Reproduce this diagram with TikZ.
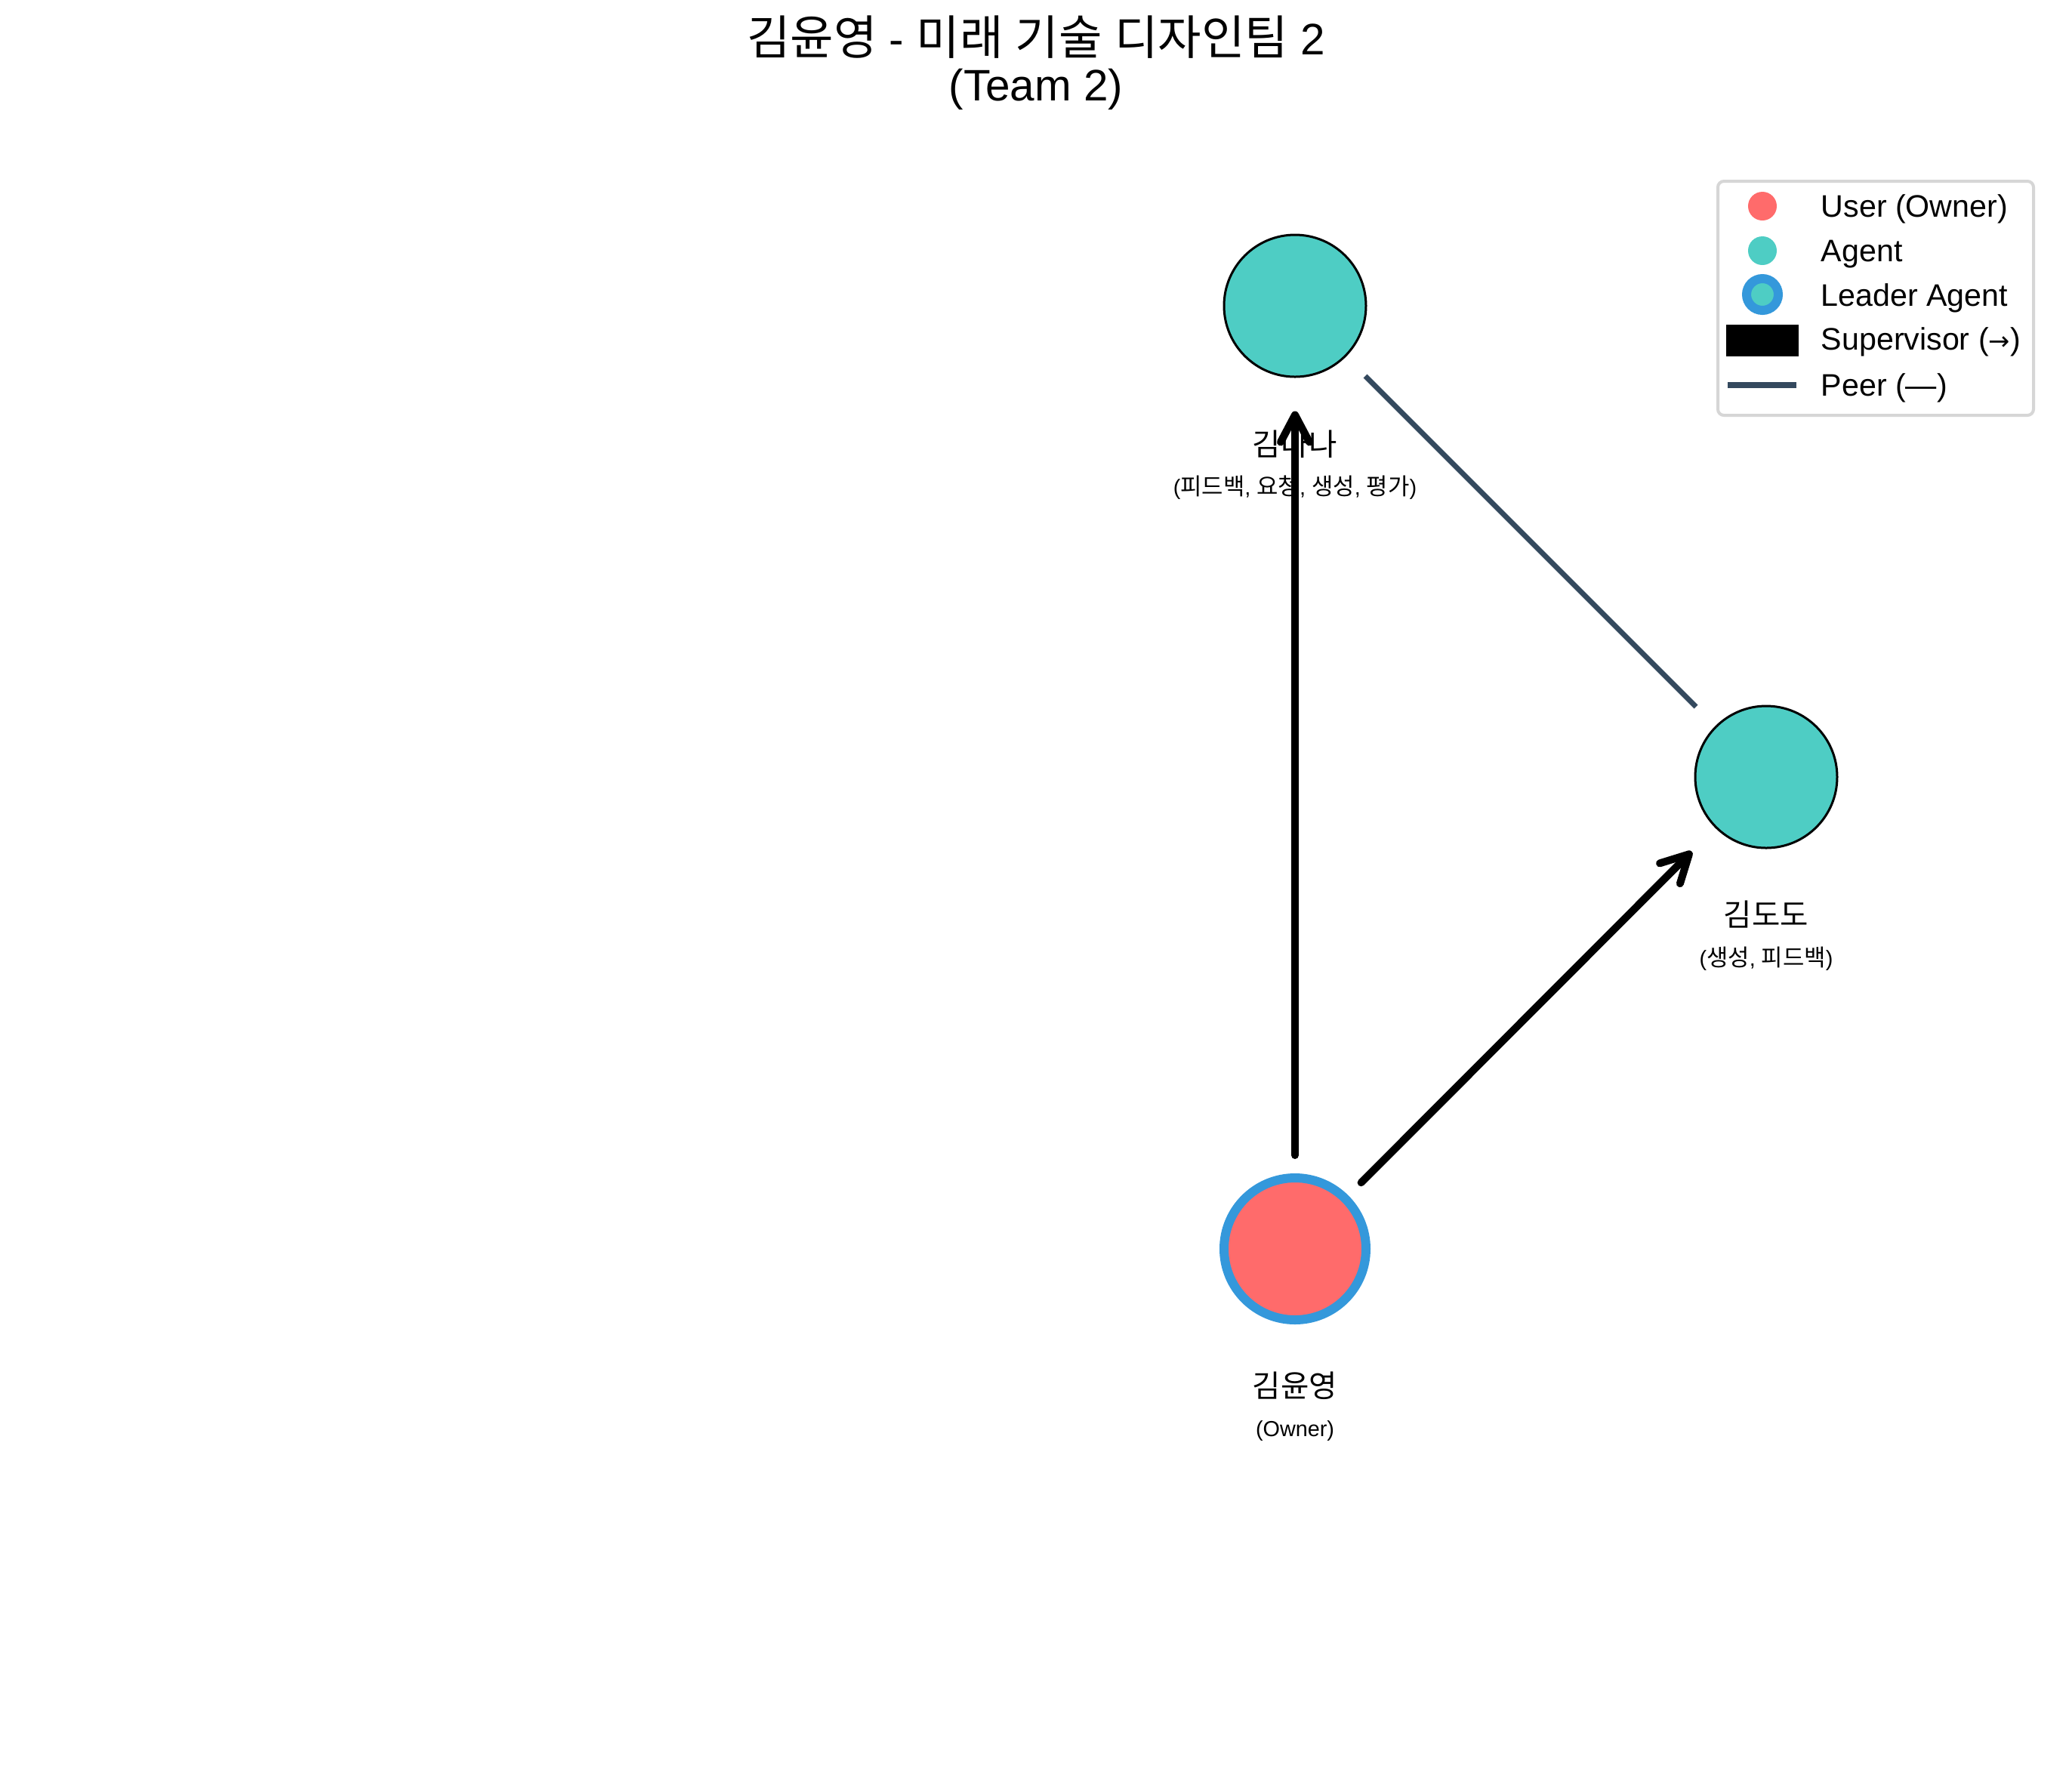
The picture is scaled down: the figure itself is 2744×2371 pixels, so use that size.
\documentclass[tikz,border=0pt]{standalone}
\usepackage{fontspec}
\setmainfont{Liberation Sans}
\newfontfamily\cjk[Scale=1.07]{Noto Sans CJK KR}
\newfontfamily\djv[Scale=0.82]{DejaVu Sans}
\usetikzlibrary{arrows.meta}
\definecolor{userred}{HTML}{FF6B6B}
\definecolor{agentteal}{HTML}{4ECDC4}
\definecolor{leaderblue}{HTML}{3498DB}
\definecolor{peercol}{HTML}{34495E}
\definecolor{legframe}{HTML}{D6D6D6}
\newcommand{\K}[1]{{\cjk #1}}
\tikzset{
  agentnode/.style={circle, minimum size=47pt, inner sep=0pt, fill=agentteal, draw=black, line width=0.75pt},
  ownernode/.style={circle, minimum size=47pt, inner sep=0pt, fill=userred, draw=leaderblue, line width=3pt},
  namelbl/.style={anchor=base, font=\fontsize{9.5pt}{11pt}\selectfont, inner sep=0pt},
  sublbl/.style={anchor=base, font=\fontsize{7.2pt}{9pt}\selectfont, inner sep=0pt},
  titlelbl/.style={anchor=base, font=\fontsize{14.6pt}{17pt}\selectfont, inner sep=0pt},
  supedge/.style={line width=2.5pt, line cap=round, -{Straight Barb[length=9pt,width=9.5pt,round]}},
  peeredge/.style={line width=1.75pt, draw=peercol},
  legtext/.style={anchor=base west, font=\fontsize{10.3pt}{12pt}\selectfont, inner sep=0pt},
  legdot/.style={circle, minimum size=9.5pt, inner sep=0pt},
}
\begin{document}
\begin{tikzpicture}[x=0.25pt,y=-0.25pt]
\fill[white] (0,0) rectangle (2744,2371);
\useasboundingbox (0,0) rectangle (2744,2371);

% title
\node[titlelbl] (title1) at (1372,72) {\K{김윤영} - \K{미래} \K{기술} \K{디자인팀} 2};
\node[titlelbl] (title2) at (1372,133) {(Team 2)};

% nodes
\node[agentnode] (nana) at (1715,405) {};
\node[agentnode] (dodo) at (2339,1029) {};
\node[ownernode] (own) at (1715,1654) {};

% labels
\node[namelbl] (nanaL) at (1715,603) {\K{김나나}};
\node[sublbl] (nanaS) at (1715,655) {(\K{피드백}, \K{요청}, \K{생성}, \K{평가})};
\node[namelbl] (dodoL) at (2339,1226) {\K{김도도}};
\node[sublbl] (dodoS) at (2339,1279) {(\K{생성}, \K{피드백})};
\node[namelbl] (ownL) at (1715,1850) {\K{김윤영}};
\node[sublbl] (ownS) at (1715,1902) {(Owner)};

% edges
\draw[supedge, shorten <=6pt, shorten >=11pt] (own) -- (nana);
\draw[supedge, shorten <=6pt, shorten >=11pt] (own) -- (dodo);
\draw[peeredge, shorten <=9pt, shorten >=9pt] (nana) -- (dodo);

% legend
\draw[legframe, line width=1pt, rounded corners=2pt, fill=white] (2275,240) rectangle (2693,550);
\node[legdot, fill=userred] (lgUser) at (2334,273) {};
\node[legdot, fill=agentteal] (lgAgent) at (2334,332) {};
\node[circle, minimum size=10.5pt, inner sep=0pt, fill=agentteal, draw=leaderblue, line width=3pt] (lgLeader) at (2334,390) {};
\node[fill=black, minimum width=24pt, minimum height=10.5pt, inner sep=0pt] (lgSup) at (2334,451) {};
\draw[peercol, line width=2pt] (2288,510) -- (2379,510);
\node[legtext] (ltUser) at (2411,287) {User (Owner)};
\node[legtext] (ltAgent) at (2411,346) {Agent};
\node[legtext] (ltLeader) at (2411,405) {Leader Agent};
\node[legtext] (ltSup) at (2411,463) {Supervisor ({\djv →})};
\node[legtext] (ltPeer) at (2411,524) {Peer (—)};
\end{tikzpicture}
\end{document}
